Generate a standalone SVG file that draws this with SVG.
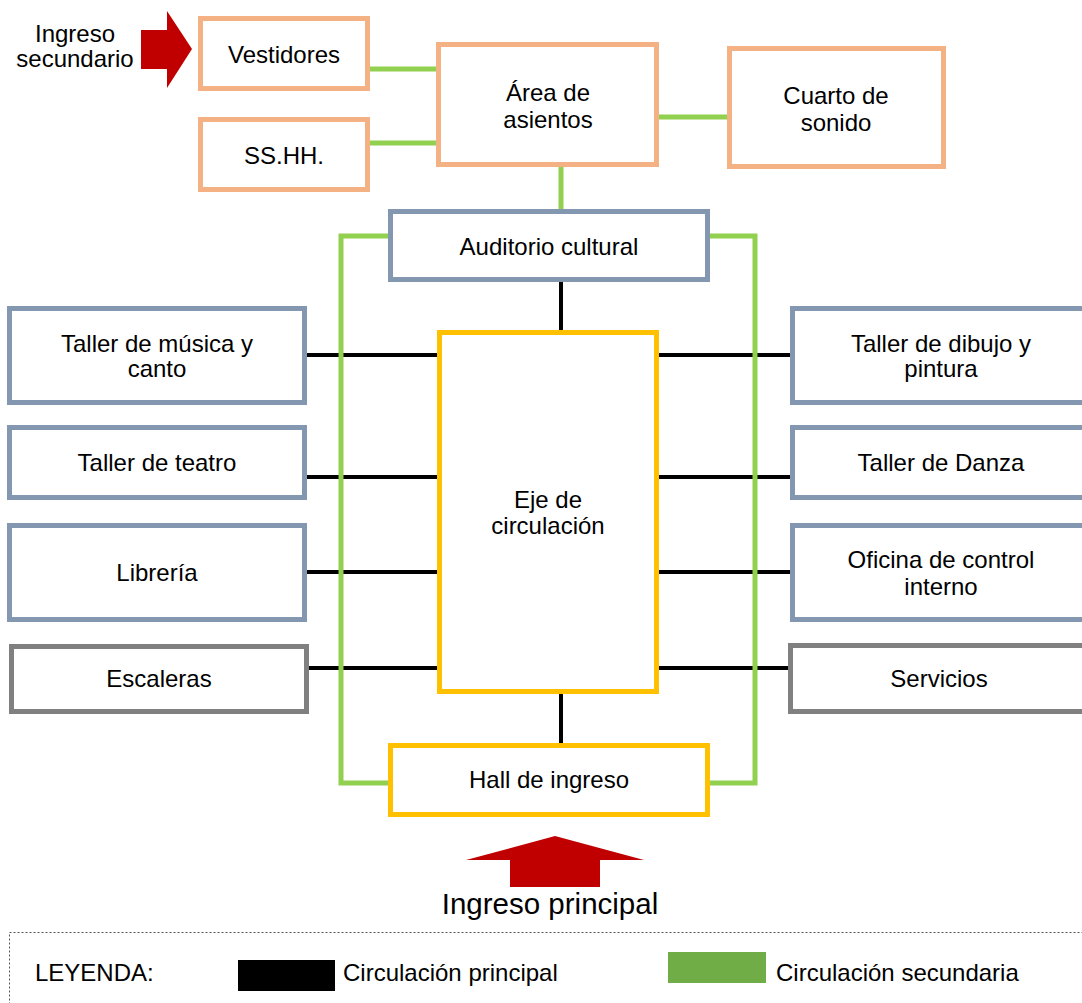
<svg xmlns="http://www.w3.org/2000/svg" width="1082" height="1003" viewBox="0 0 1082 1003">
<style>
text{font-family:"Liberation Sans",Arial,sans-serif;font-size:24px;fill:#000;text-anchor:middle}
.box{fill:#fff;stroke-width:5}
.or{stroke:#F4B183}.bl{stroke:#8497B0}.gr{stroke:#808080}.ye{stroke:#FFC000}
.k{stroke:#000;stroke-width:4;fill:none}
.g{stroke:#92D050;stroke-width:5;fill:none}
</style>
<rect width="1082" height="1003" fill="#fff"/>
<g id="connectors">
<line class="k" x1="561" y1="282" x2="561" y2="330"/>
<line class="k" x1="561" y1="694" x2="561" y2="743"/>
<line class="k" x1="307" y1="355" x2="437" y2="355"/>
<line class="k" x1="307" y1="477" x2="437" y2="477"/>
<line class="k" x1="307" y1="572" x2="437" y2="572"/>
<line class="k" x1="309" y1="668" x2="437" y2="668"/>
<line class="k" x1="659" y1="355" x2="790" y2="355"/>
<line class="k" x1="659" y1="477" x2="790" y2="477"/>
<line class="k" x1="659" y1="572" x2="790" y2="572"/>
<line class="k" x1="659" y1="668" x2="788" y2="668"/>
<line class="g" x1="370" y1="69" x2="436" y2="69"/>
<line class="g" x1="370" y1="143" x2="436" y2="143"/>
<line class="g" x1="659" y1="117" x2="727" y2="117"/>
<line class="g" x1="561" y1="167" x2="561" y2="209"/>
<polyline class="g" points="388,236 341,236 341,783 388,783"/>
<polyline class="g" points="710,236 755,236 755,783 710,783"/>
</g>
<g id="vestidores"><rect class="box or" x="200.5" y="18.5" width="167" height="70"/><text x="284" y="63">Vestidores</text></g>
<g id="sshh"><rect class="box or" x="200.5" y="119.5" width="167" height="70"/><text x="284" y="164">SS.HH.</text></g>
<g id="area-asientos"><rect class="box or" x="438.5" y="44.5" width="218" height="120"/><text x="548" y="101">Área de</text><text x="548" y="128">asientos</text></g>
<g id="cuarto-sonido"><rect class="box or" x="729.5" y="48.5" width="214" height="118"/><text x="836" y="104">Cuarto de</text><text x="836" y="131">sonido</text></g>
<g id="auditorio"><rect class="box bl" x="390.5" y="211.5" width="317" height="68"/><text x="549" y="255">Auditorio cultural</text></g>
<g id="taller-musica"><rect class="box bl" x="9.5" y="308.5" width="295" height="94"/><text x="157" y="352">Taller de música y</text><text x="157" y="377">canto</text></g>
<g id="taller-teatro"><rect class="box bl" x="9.5" y="427.5" width="295" height="70"/><text x="157" y="471">Taller de teatro</text></g>
<g id="libreria"><rect class="box bl" x="9.5" y="525.5" width="295" height="94"/><text x="157" y="581">Librería</text></g>
<g id="escaleras"><rect class="box gr" x="11.5" y="646.5" width="295" height="65"/><text x="159" y="687">Escaleras</text></g>
<g id="eje"><rect class="box ye" x="439.5" y="332.5" width="217" height="359"/><text x="548" y="508">Eje de</text><text x="548" y="534">circulación</text></g>
<g id="taller-dibujo"><rect class="box bl" x="792.5" y="308.5" width="295" height="94"/><text x="941" y="352">Taller de dibujo y</text><text x="941" y="377">pintura</text></g>
<g id="taller-danza"><rect class="box bl" x="792.5" y="427.5" width="295" height="70"/><text x="941" y="471">Taller de Danza</text></g>
<g id="oficina"><rect class="box bl" x="792.5" y="525.5" width="295" height="94"/><text x="941" y="568">Oficina de control</text><text x="941" y="595">interno</text></g>
<g id="servicios"><rect class="box gr" x="790.5" y="645.5" width="297" height="66"/><text x="939" y="687">Servicios</text></g>
<g id="hall"><rect class="box ye" x="390.5" y="745.5" width="317" height="69"/><text x="549" y="788">Hall de ingreso</text></g>
<g id="ingreso-secundario">
<polygon points="141,30 167,30 167,11 192,49 167,88 167,69 141,69" fill="#C00000"/>
<text x="75" y="42">Ingreso</text><text x="75" y="67">secundario</text>
</g>
<g id="ingreso-principal">
<polygon points="555,836 644,860 600,860 600,887 510,887 510,860 466,860" fill="#C00000"/>
<text x="550" y="914" style="font-size:29.5px">Ingreso principal</text>
</g>
<g id="leyenda">
<rect x="9.5" y="932.5" width="1090" height="90" fill="none" stroke="#555" stroke-width="1" stroke-dasharray="2,2"/>
<text x="35" y="981" style="text-anchor:start">LEYENDA:</text>
<rect x="238" y="960" width="97" height="31" fill="#000"/>
<text x="343" y="981" style="text-anchor:start">Circulación principal</text>
<rect x="668" y="952" width="98" height="31" fill="#70AD47"/>
<text x="776" y="981" style="text-anchor:start">Circulación secundaria</text>
</g>
</svg>
